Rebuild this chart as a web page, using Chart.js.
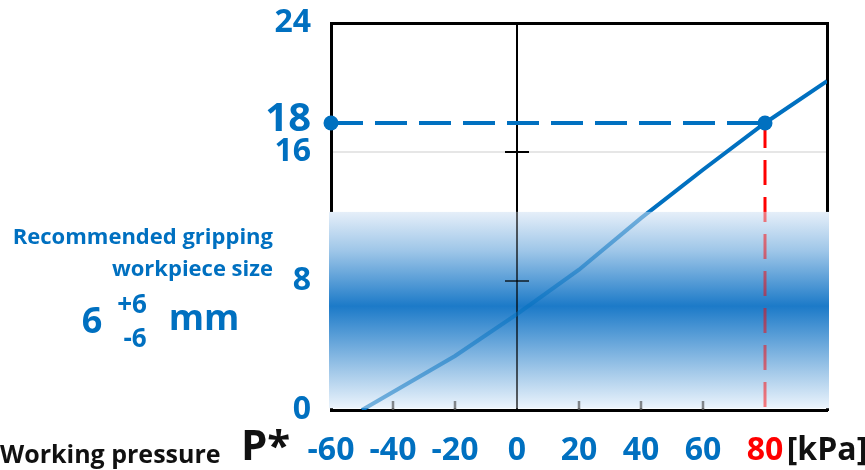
<!DOCTYPE html>
<html>
<head>
<meta charset="utf-8">
<script src="https://cdn.jsdelivr.net/npm/chart.js@4/dist/chart.umd.min.js"></script>
<style>
  html, body { margin: 0; padding: 0; background: #fff; }
  #wrap { width: 865px; height: 470px; position: relative; }
</style>
</head>
<body>
<div id="wrap"><canvas id="chart" width="865" height="470"></canvas></div>
<script>
// --- данные ---
const xTicks = [-60, -40, -20, 0, 20, 40, 60, 80, 100];
const xTickLabels = ['-60', '-40', '-20', '0', '20', '40', '60', '80', '[kPa]'];
const yTicks = [0, 8, 16, 18, 24];
const pressure = [-50, -20, 0, 20, 40, 60, 80, 100];
const gripSize = [0, 3.35, 5.95, 8.7, 11.9, 14.9, 17.8, 20.4];
const readPressure = 80;
const readSize = 17.8;
const bandRange = [0, 12.3];
const minorTicks = [-40, -20, 20, 40, 60];
const crossMarks = [8, 16];
const noteLines = ['Recommended gripping', 'workpiece size'];

const BLUE = '#0070c0';
const FONT = 'Open Sans';

// крестики и риски
function drawMarks(chart) {
    const { ctx, scales: { x, y } } = chart;
    ctx.strokeStyle = '#000'; ctx.lineWidth = 2;
    crossMarks.forEach(v => {
        const py = y.getPixelForValue(v), px = x.getPixelForValue(0);
        ctx.beginPath(); ctx.moveTo(px - 12, py); ctx.lineTo(px + 12, py); ctx.stroke();
    });
    ctx.strokeStyle = '#444'; ctx.lineWidth = 2.5;
    minorTicks.forEach(v => {
        const px = x.getPixelForValue(v), py = y.getPixelForValue(0);
        ctx.beginPath(); ctx.moveTo(px, py); ctx.lineTo(px, py - 9); ctx.stroke();
    });
}

// --- рамка, метки, полоса, подписи ---
const decor = {
    id: 'decor',
    beforeDatasetsDraw(chart) {
        chart.ctx.save();
        drawMarks(chart);
        chart.ctx.restore();
    },
    afterDatasetsDraw(chart) {
        const { ctx, chartArea: a, scales } = chart;
        const top = scales.y.getPixelForValue(bandRange[1]);
        const bottom = scales.y.getPixelForValue(bandRange[0]) - 1.5;
        const g = ctx.createLinearGradient(0, top, 0, bottom);
        g.addColorStop(0, 'rgb(230,239,249)');
        g.addColorStop(0.2, 'rgb(158,198,232)');
        g.addColorStop(0.48, 'rgb(28,122,200)');
        g.addColorStop(0.8, 'rgb(158,198,232)');
        g.addColorStop(1, 'rgb(236,244,252)');
        ctx.save();
        ctx.beginPath();
        ctx.rect(a.left - 2, top, a.right - a.left + 4, bottom - top);
        ctx.clip();
        ctx.fillStyle = g;
        ctx.fillRect(a.left - 2, top, a.right - a.left + 4, bottom - top);
        // линии сквозь полосу — полупрозрачно
        ctx.globalAlpha = 0.62;
        ['x', 'y', 'x2', 'y2'].forEach(id => scales[id].drawGrid(a));
        drawMarks(chart);
        ctx.globalAlpha = 0.5;
        [2, 1].forEach(i => chart.getDatasetMeta(i).controller.draw());
        ctx.restore();
    },
    afterDraw(chart) {
        const { ctx } = chart;
        ctx.save();
        ctx.textBaseline = 'middle';
        ctx.fillStyle = BLUE;
        ctx.textAlign = 'right';
        ctx.font = `bold 22px "${FONT}"`;
        ctx.fillText(noteLines[0], 273, 238);
        ctx.fillText(noteLines[1], 273, 270);
        ctx.textAlign = 'center';
        ctx.font = `bold 36px "${FONT}"`;
        ctx.fillText('6', 92, 323);
        ctx.fillText('mm', 204, 320);
        ctx.font = `bold 26px "${FONT}"`;
        ctx.fillText('+6', 132, 306);
        ctx.fillText('-6', 135, 340);
        ctx.fillStyle = '#111';
        ctx.textAlign = 'left';
        ctx.font = `bold 25px "${FONT}"`;
        ctx.fillText('Working pressure', 0, 456);
        ctx.font = `bold 42px "${FONT}"`;
        ctx.fillText('P*', 241, 448);
        ctx.restore();
    }
};

function fixWidth(w) { return s => { s.width = w; s.paddingTop = 0; s.paddingBottom = 0; }; }
function fixHeight(h) { return s => { s.height = h; s.paddingLeft = 0; s.paddingRight = 0; }; }

new Chart(document.getElementById('chart'), {
    type: 'line',
    data: {
        datasets: [
            {
                data: [{ x: xTicks[0], y: readSize }, { x: readPressure, y: readSize }],
                borderColor: BLUE, borderWidth: 4, borderDash: [32, 12],
                pointRadius: 7.5, pointBackgroundColor: BLUE, pointBorderWidth: 0,
                clip: false, order: 0
            },
            {
                data: pressure.map((p, i) => ({ x: p, y: gripSize[i] })),
                borderColor: BLUE, borderWidth: 4, pointRadius: 0, tension: 0, order: 1
            },
            {
                data: [{ x: readPressure, y: readSize }, { x: readPressure, y: 0 }],
                borderColor: '#ff0000', borderWidth: 3, borderDash: [25, 12],
                pointRadius: 0, order: 2
            }
        ]
    },
    options: {
        responsive: false,
        animation: false,
        layout: { padding: { top: 23, right: 38, left: 0, bottom: 0 } },
        plugins: { legend: { display: false }, tooltip: { enabled: false } },
        scales: {
            x: {
                type: 'linear', min: -60, max: 100,
                afterBuildTicks: s => { s.ticks = xTicks.map(v => ({ value: v })); },
                afterFit: fixHeight(60),
                ticks: {
                    autoSkip: false, maxRotation: 0, padding: 22,
                    callback: v => xTickLabels[xTicks.indexOf(v)],
                    color: c => c.tick.value === 80 ? '#ff0000' : (c.tick.value === 100 ? '#111' : BLUE),
                    font: { family: FONT, weight: 'bold', size: 32 }
                },
                grid: {
                    drawTicks: false,
                    color: c => c.tick && c.tick.value === 0 ? '#000' : 'rgba(0,0,0,0)',
                    lineWidth: 2
                },
                border: { color: '#000', width: 3 }
            },
            y: {
                type: 'linear', min: 0, max: 24,
                afterBuildTicks: s => { s.ticks = yTicks.map(v => ({ value: v })); },
                afterFit: fixWidth(331),
                ticks: {
                    autoSkip: false, padding: 20, color: BLUE,
                    font: c => ({ family: FONT, weight: 'bold', size: c.tick && c.tick.value === 18 ? 40 : 32 })
                },
                grid: {
                    drawTicks: false,
                    color: c => c.tick && c.tick.value === 16 ? '#e6e6e6' : 'rgba(0,0,0,0)',
                    lineWidth: 2
                },
                border: { color: '#000', width: 3 }
            },
            x2: {
                type: 'linear', position: 'top', min: -60, max: 100,
                afterFit: fixHeight(0),
                ticks: { display: false }, grid: { display: false, drawTicks: false },
                border: { color: '#000', width: 3 }
            },
            y2: {
                type: 'linear', position: 'right', min: 0, max: 24,
                afterFit: fixWidth(0),
                ticks: { display: false }, grid: { display: false, drawTicks: false },
                border: { color: '#000', width: 3 }
            }
        }
    },
    plugins: [decor]
});
</script>
</body>
</html>
